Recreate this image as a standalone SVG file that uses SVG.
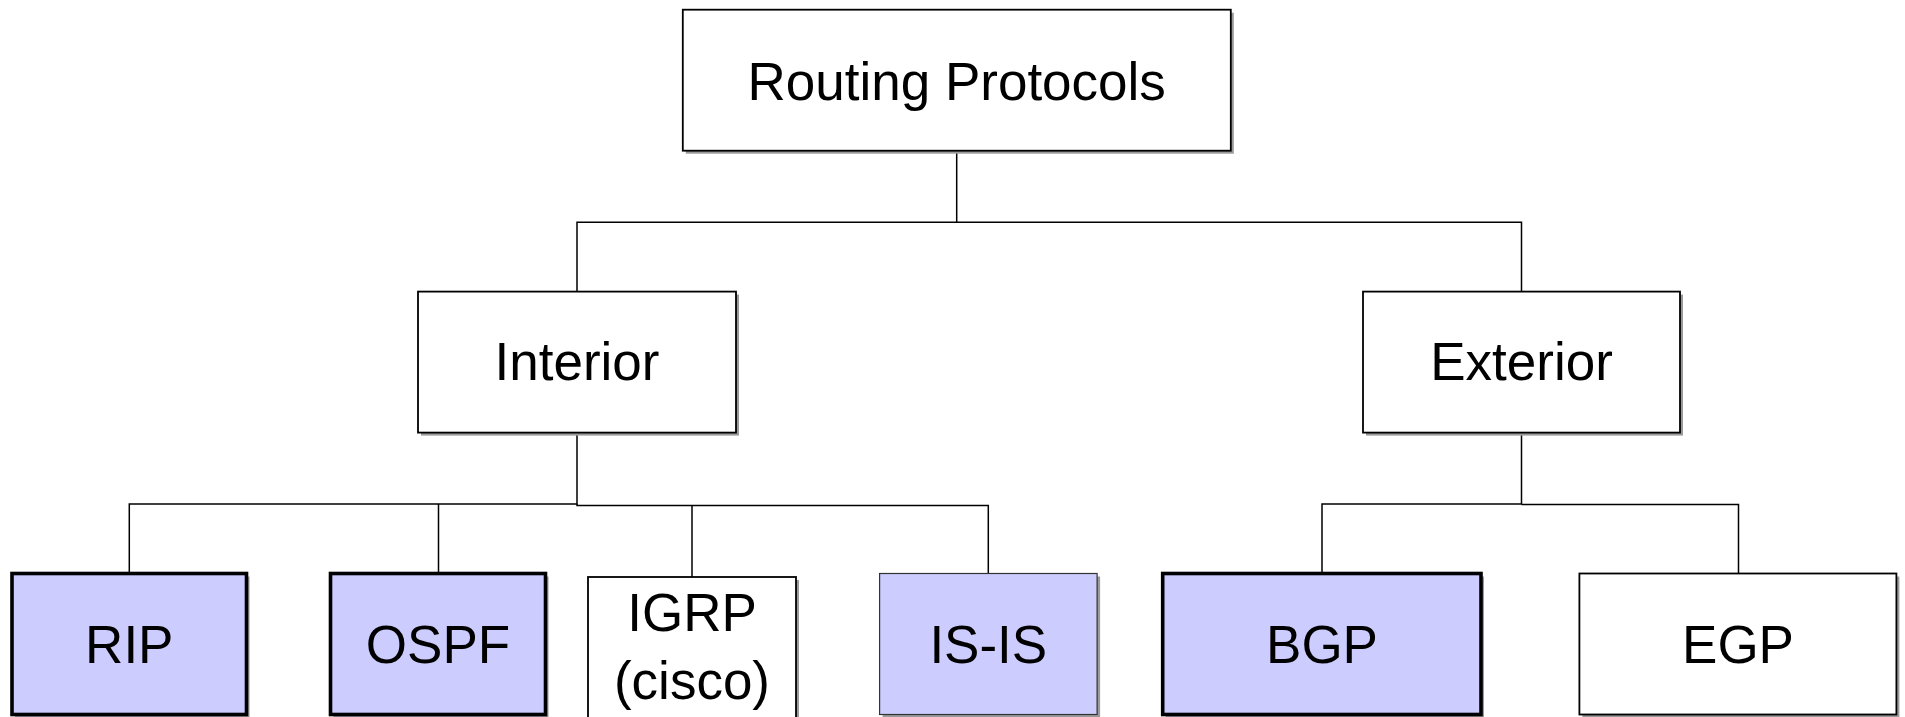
<svg xmlns="http://www.w3.org/2000/svg" width="1905" height="717" viewBox="0 0 1905 717">
  <style>
    .shadow { fill: #9a9a9a; }
    .box { fill: #ffffff; stroke: #000000; stroke-width: 1.8; }
    .hl { fill: #ccccff; }
    .thick { stroke-width: 3.6; }
    .thin { stroke-width: 1.2; stroke: #333333; }
    .lbl { font-family: "Liberation Sans", Arial, Helvetica, sans-serif; font-size: 53px; fill: #000000; text-anchor: middle; }
    .conn { fill: none; stroke: #000000; stroke-width: 1.5; }
  </style>
  <rect width="1905" height="717" fill="#ffffff"/>

  <!-- tree connectors -->
  <g id="connectors">
    <path class="conn" d="M956.7 150.6 V222.3 H577 V291.6"/>
    <path class="conn" d="M956.7 222.3 H1521.5 V291.6"/>
    <path class="conn" d="M577 432.5 V504 H129.3 V573.5"/>
    <path class="conn" d="M438.5 504 V573.5"/>
    <path class="conn" d="M577 504 V505.5 H988.3 V573.5"/>
    <path class="conn" d="M692 505.5 V577"/>
    <path class="conn" d="M1521.5 432.5 V504 H1322 V573.5"/>
    <path class="conn" d="M1521.5 504.5 H1738.5 V573.5"/>
  </g>

  <g id="routing-protocols">
    <rect class="shadow" x="685.8" y="12.7" width="548" height="141"/>
    <rect class="box" x="682.8" y="9.7" width="548" height="141"/>
    <text class="lbl" x="956.7" y="99.6">Routing Protocols</text>
  </g>

  <g id="interior">
    <rect class="shadow" x="421" y="294.6" width="318" height="141"/>
    <rect class="box" x="418" y="291.6" width="318" height="141"/>
    <text class="lbl" x="577" y="380">Interior</text>
  </g>

  <g id="exterior">
    <rect class="shadow" x="1366" y="294.6" width="317" height="141"/>
    <rect class="box" x="1363" y="291.6" width="317" height="141"/>
    <text class="lbl" x="1521.5" y="380">Exterior</text>
  </g>

  <g id="rip">
    <rect class="shadow" x="15" y="576.5" width="234.5" height="141"/>
    <rect class="box hl thick" x="12" y="573.5" width="234.5" height="141"/>
    <text class="lbl" x="129.3" y="663">RIP</text>
  </g>

  <g id="ospf">
    <rect class="shadow" x="333.5" y="576.5" width="215" height="141"/>
    <rect class="box hl thick" x="330.5" y="573.5" width="215" height="141"/>
    <text class="lbl" x="438" y="663">OSPF</text>
  </g>

  <g id="igrp">
    <rect class="shadow" x="591" y="580" width="208" height="145"/>
    <rect class="box" x="588" y="577" width="208" height="145"/>
    <text class="lbl" x="692" y="631">IGRP</text>
    <text class="lbl" x="692" y="699">(cisco)</text>
  </g>

  <g id="is-is">
    <rect class="shadow" x="882.6" y="576.5" width="217.5" height="141"/>
    <rect class="box hl thin" x="879.6" y="573.5" width="217.5" height="141"/>
    <text class="lbl" x="988.3" y="663">IS-IS</text>
  </g>

  <g id="bgp">
    <rect class="shadow" x="1165.7" y="576.5" width="318.3" height="141"/>
    <rect class="box hl thick" x="1162.7" y="573.5" width="318.3" height="141"/>
    <text class="lbl" x="1322" y="663">BGP</text>
  </g>

  <g id="egp">
    <rect class="shadow" x="1582.4" y="576.5" width="317" height="141"/>
    <rect class="box" x="1579.4" y="573.5" width="317" height="141"/>
    <text class="lbl" x="1738" y="663">EGP</text>
  </g>
</svg>
